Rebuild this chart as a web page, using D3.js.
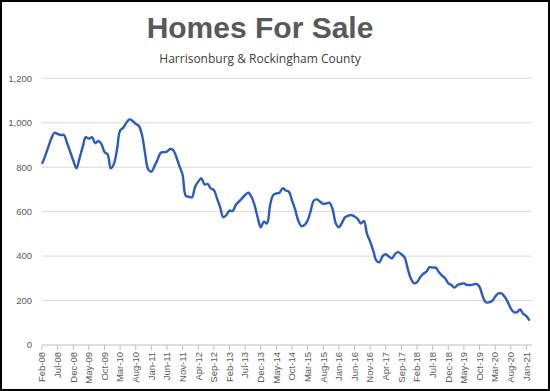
<!DOCTYPE html>
<html><head><meta charset="utf-8">
<script src="https://cdn.jsdelivr.net/npm/d3@7"></script>
<style>body{margin:0;background:#fff}svg{display:block}</style>
</head><body>
<script>
const title = "Homes For Sale";
const subtitle = "Harrisonburg & Rockingham County";
const startYear = 2008, startMonth = 1; // Feb-08
const values = [
815,850,890,930,955,950,945,945,910,870,830,795,
840,890,935,928,935,908,918,905,868,858,795,815,
880,965,978,1000,1015,1008,995,985,945,860,790,780,
805,835,865,868,870,882,877,845,805,765,672,667,
665,712,735,750,722,725,705,697,660,620,575,585,
605,603,630,645,660,675,685,667,630,575,530,555,
547,630,675,682,685,705,695,690,650,610,560,535,
540,560,605,650,655,645,635,637,640,610,548,530,
550,575,582,585,578,568,547,558,500,465,425,380,
372,400,408,398,390,410,418,408,395,345,300,278,
282,305,320,330,350,348,348,328,312,300,278,270,
258,270,275,277,270,270,272,275,262,220,192,192,
198,217,232,232,218,195,165,148,148,160,140,130,110
];
const yTicks = [0,200,400,600,800,1000,1200];
const monthNames = ["Jan","Feb","Mar","Apr","May","Jun","Jul","Aug","Sep","Oct","Nov","Dec"];
const labels = values.map((v,i)=>{
  const m = (startMonth + i) % 12, y = startYear + Math.floor((startMonth + i)/12);
  return monthNames[m] + "-" + String(y % 100).padStart(2,"0");
});

const W = 550, H = 391;
const svg = d3.select("body").append("svg").attr("width",W).attr("height",H);
svg.append("rect").attr("x",1).attr("y",1).attr("width",W-2).attr("height",H-2)
  .attr("fill","#fff").attr("stroke","#000").attr("stroke-width",2);

const x = d3.scaleLinear().domain([0, values.length-1]).range([42, 529.5]);
const y = d3.scaleLinear().domain([0,1200]).range([345, 78.3]);

// title
svg.append("text").attr("x",260).attr("y",38).attr("text-anchor","middle")
  .attr("font-family","Liberation Sans, Arial, sans-serif").attr("font-weight","bold")
  .attr("font-size",30).attr("fill","#595959").text(title);
svg.append("text").attr("x",260).attr("y",63).attr("text-anchor","middle")
  .attr("font-family","Open Sans, Liberation Sans, sans-serif")
  .attr("font-size",12).attr("fill","#404040").text(subtitle);

// grid
const g = svg.append("g");
g.selectAll("line.grid").data(yTicks.filter(d=>d>0)).join("line")
  .attr("x1",42).attr("x2",532).attr("y1",d=>y(d)).attr("y2",d=>y(d))
  .attr("stroke","#d9d9d9").attr("stroke-width",1);
g.selectAll("text.yl").data(yTicks).join("text")
  .attr("x",32).attr("y",d=>y(d)).attr("dy","0.35em").attr("text-anchor","end")
  .attr("font-family","Liberation Sans, Arial, sans-serif").attr("font-size",9.5)
  .attr("fill","#595959").text(d=>d3.format(",")(d));

// x axis
g.append("line").attr("x1",42).attr("x2",532).attr("y1",y(0)).attr("y2",y(0))
  .attr("stroke","#bfbfbf").attr("stroke-width",1);
const tickIdx = d3.range(0, values.length, 5);
g.selectAll("line.xt").data(tickIdx).join("line")
  .attr("x1",d=>x(d)).attr("x2",d=>x(d)).attr("y1",y(0)).attr("y2",y(0)+5)
  .attr("stroke","#bfbfbf");
g.selectAll("text.xl").data(tickIdx).join("text")
  .attr("transform",d=>`translate(${x(d)},${y(0)+7}) rotate(-90)`)
  .attr("dy","0.35em").attr("text-anchor","end")
  .attr("font-family","Liberation Sans, Arial, sans-serif").attr("font-size",9.5)
  .attr("fill","#595959").text(d=>labels[d]);

// line
const line = d3.line().x((d,i)=>x(i)).y(d=>y(d)).curve(d3.curveCatmullRom.alpha(0.5));
svg.append("path").datum(values).attr("d",line).attr("fill","none")
  .attr("stroke","#2a5bc0").attr("stroke-width",2.4).attr("stroke-linejoin","round");
</script>
</body></html>
